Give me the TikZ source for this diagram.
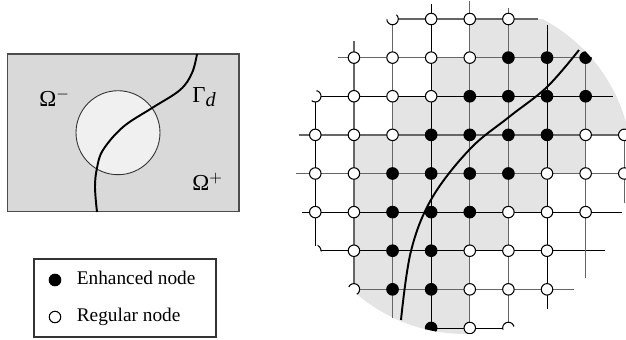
\documentclass[tikz,border=0pt]{standalone}
\usepackage{fontspec}
\setmainfont{Liberation Serif}
\definecolor{DomainGray}{HTML}{D9D9D9}
\definecolor{PatchGray}{HTML}{F0F0F0}
\definecolor{EnrichGray}{HTML}{E4E4E4}
\definecolor{GridGray}{HTML}{666666}
\tikzset{
    % Node markers
    enhancednode/.style={
        circle,
        draw=black,
        fill=black,
        line width=0.5pt,
        inner sep=0pt,
        minimum size=0.235cm
    },
    regularnode/.style={
        circle,
        draw=black,
        fill=white,
        line width=0.6pt,
        inner sep=0pt,
        minimum size=0.23cm
    },
    % Lines
    gridblack/.style={
        line width=0.55pt,
        draw=black
    },
    gridgray/.style={
        line width=0.7pt,
        draw=GridGray
    },
    crack/.style={
        line width=1.1pt,
        draw=black
    },
    % Text
    label/.style={
        inner sep=0pt,
        anchor=base west,
        font=\fontsize{11}{13}\selectfont
    },
    domainlabel/.style={
        inner sep=0pt,
        anchor=base west,
        font=\fontsize{13}{15}\selectfont
    }
}

\begin{document}
\begin{tikzpicture}[x=0.02cm,y=-0.02cm]
    \useasboundingbox (0,0) rectangle (626,339);

    % Left panel
    \node[draw=black!70, fill=DomainGray, line width=0.6pt, inner sep=0pt, minimum width=4.63cm, minimum height=3.154cm] (domain) at (123.25,132.85) {};
    \node[circle, draw=black!80, fill=PatchGray, line width=0.5pt, inner sep=0pt, minimum size=1.68cm] (patch) at (118,132.7) {};
    \coordinate (top) at (197,54);
    \coordinate (bot) at (97,212);
    \draw[crack] plot[smooth, tension=0.6] coordinates {(top) (192,73) (180,90) (152,108) (123,127) (103,150) (97,168) (95,187) (bot)};
    \node[domainlabel] (ominus) at (39,106) {Ω$^{-}$};
    \node[domainlabel] (gammad) at (192,102) {Γ\raisebox{-2.8pt}{\fontsize{11.5}{13}\selectfont\textit{d}}};
    \node[domainlabel] (oplus) at (192,190) {Ω$^{+}$};

    % Legend
    \node[draw=black!80, fill=white, line width=0.6pt, inner sep=0pt, minimum width=3.64cm, minimum height=1.56cm] (legend) at (125,298) {};
    \node[enhancednode] (legE) at (55,280) {};
    \node[regularnode] (legR) at (55,317) {};
    \node[label] (legEt) at (76.5,284) {Enhanced node};
    \node[label] (legRt) at (76.5,321) {Regular node};

    % Mesh points
    \foreach \c in {0,...,8} {
        \foreach \r in {0,...,8} {
            \coordinate (p\c-\r) at ({315.3+38.62*\c},{19+38.62*\r});
        }
    }

    % Enriched region
    \begin{scope}
        \clip (465,167) circle[radius=3.34cm];
        \fill[EnrichGray] (p4-0) -- (660,19) -- (660,135) -- (p7-3) -- (p7-4) -- (p6-4) -- (p6-5) -- (p5-5) -- (p5-6) -- (p4-6) -- (470.3,345) -- (354,345) -- (p1-3) -- (p2-3) -- (p2-2) -- (p3-2) -- (p3-1) -- (p4-1) -- cycle;
    \end{scope}

    % Horizontal mesh lines
    \foreach \r/\y/\xa/\xb/\s in {0/19/393/538/gridgray, 1/57.6/338/592/gridgray, 2/96.2/315/613/gridblack, 3/134.9/299/626/gridgray, 4/173.5/296/626/gridgray, 5/212.1/302/622/gridblack, 6/250.8/320/605/gridblack, 7/289.4/354/574/gridgray, 8/328/432/503/gridblack} {
        \coordinate (hl\r) at (\xa,\y);
        \coordinate (hr\r) at (\xb,\y);
        \draw[\s] (hl\r) -- (hr\r);
    }

    % Vertical mesh lines
    \foreach \c/\x/\ya/\yb/\s in {0/315.3/96/246/gridblack, 1/353.9/41/289/gridgray, 2/392.5/19/318/gridgray, 3/431.2/4/328/gridblack, 4/469.8/1/328/gridgray, 5/508.4/8/322/gridgray, 6/547/25/309/gridblack, 7/585.6/58/278/gridgray, 8/624.3/135/203/gridgray} {
        \coordinate (vt\c) at (\x,\ya);
        \coordinate (vb\c) at (\x,\yb);
        \draw[\s] (vt\c) -- (vb\c);
    }

    % Mesh nodes, cut by the circle
    \begin{scope}
        \clip (465,167) circle[radius=3.34cm];
        \foreach \c/\r in {2/0,3/0,4/0,5/0, 1/1,2/1,3/1,4/1, 0/2,1/2,2/2,3/2, 0/3,1/3,2/3,7/3,8/3, 0/4,1/4,6/4,7/4,8/4, 0/5,1/5,5/5,6/5,7/5, 0/6,1/6,4/6,5/6,6/6, 1/7,4/7,5/7,6/7, 4/8,5/8} {
            \node[regularnode] (n\c-\r) at (p\c-\r) {};
        }
        \foreach \c/\r in {5/1,6/1,7/1, 4/2,5/2,6/2,7/2, 3/3,4/3,5/3,6/3, 2/4,3/4,4/4,5/4, 2/5,3/5,4/5, 2/6,3/6, 2/7,3/7, 3/8} {
            \node[enhancednode] (n\c-\r) at (p\c-\r) {};
        }
    \end{scope}

    % Discontinuity in the close-up
    \coordinate (ctop) at (579,50);
    \coordinate (cbot) at (401,320);
    \draw[crack] plot[smooth, tension=0.6] coordinates {(ctop) (547,87) (509,117) (470,149) (432,198) (411,251) (cbot)};
\end{tikzpicture}
\end{document}
